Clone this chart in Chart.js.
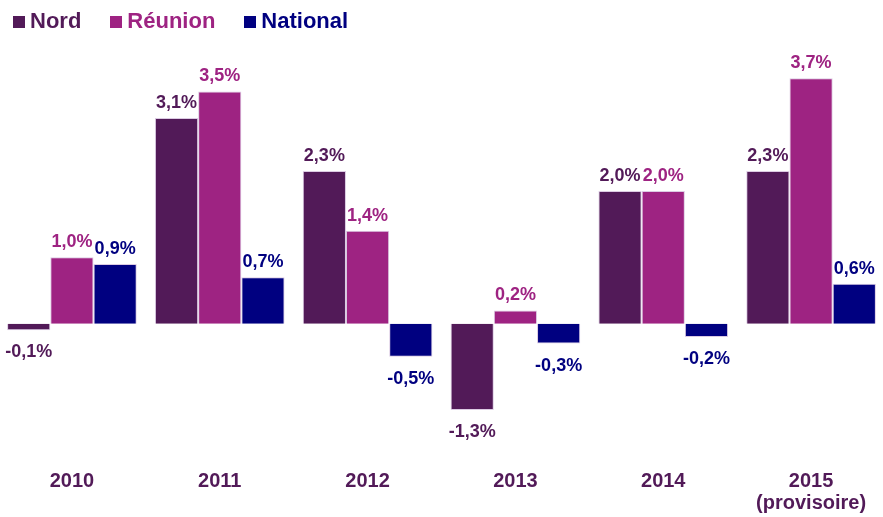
<!DOCTYPE html>
<html>
<head>
<meta charset="utf-8">
<script src="https://cdn.jsdelivr.net/npm/chart.js@4.4.0/dist/chart.umd.min.js"></script>
<style>
html, body { margin: 0; padding: 0; background: #fff; overflow: hidden; }
#wrap { position: relative; width: 883px; height: 517px; overflow: hidden; }
#legend { position: absolute; left: 13px; top: 10px; font: bold 22px "Liberation Sans", Arial, sans-serif; line-height: 22px; white-space: nowrap; }
#legend .item { display: inline-block; margin-right: 29px; }
#legend .box { display: inline-block; width: 12px; height: 12px; margin-right: 5px; vertical-align: baseline; }
canvas { position: absolute; left: -2px; top: 0; }
</style>
</head>
<body>
<div id="wrap">
  <canvas id="chart" width="887" height="517"></canvas>
  <div id="legend"></div>
</div>
<script>
// données
var years = ['2010', '2011', '2012', '2013', '2014', ['2015', '(provisoire)']];
var seriesNames = ['Nord', 'Réunion', 'National'];
var nord = [-0.1, 3.1, 2.3, -1.3, 2.0, 2.3];
var reunion = [1.0, 3.5, 1.4, 0.2, 2.0, 3.7];
var national = [0.9, 0.7, -0.5, -0.3, -0.2, 0.6];
var colors = ['#521a58', '#9e2382', '#000080'];

var $ = function(sel) {
    return document.querySelector(sel);
}

// légende en html
var legend = $('#legend');
seriesNames.forEach(function(name, i) {
    var item = document.createElement('span');
    item.className = 'item';
    item.style.color = colors[i];
    item.innerHTML = '<span class="box" style="background:' + colors[i] + '"></span>' + name;
    legend.appendChild(item);
});

function fmt(v) {
    return v.toFixed(1).replace('.', ',') + '%';
}

var valueLabels = {
    id: 'valueLabels',
    afterDatasetsDraw: function(chart) {
        var ctx = chart.ctx;
        ctx.save();
        ctx.font = 'bold 18px "Liberation Sans", Arial, sans-serif';
        ctx.textAlign = 'center';
        ctx.textBaseline = 'alphabetic';
        chart.data.datasets.forEach(function(ds, i) {
            var meta = chart.getDatasetMeta(i);
            ctx.fillStyle = colors[i];
            meta.data.forEach(function(bar, j) {
                var v = ds.data[j];
                if (v >= 0) {
                    ctx.fillText(fmt(v), bar.x, bar.y - 10);
                } else {
                    ctx.fillText(fmt(v), bar.x, bar.y + 27);
                }
            });
        });
        ctx.restore();
    }
};

var datasets = [nord, reunion, national].map(function(d, i) {
    return {
        label: seriesNames[i],
        data: d,
        backgroundColor: colors[i],
        borderColor: '#dccbe3',
        borderWidth: 1
    };
});

var chart = new Chart($('#chart').getContext('2d'), {
    type: 'bar',
    data: { labels: years, datasets: datasets },
    plugins: [valueLabels],
    options: {
        responsive: false,
        animation: false,
        layout: { padding: { top: 40, left: 0, right: 0, bottom: 0 } },
        plugins: {
            legend: { display: false },
            tooltip: { enabled: false }
        },
        datasets: {
            bar: { categoryPercentage: 0.877, barPercentage: 1.0 }
        },
        scales: {
            x: {
                grid: { display: false },
                border: { display: false },
                ticks: {
                    color: '#521a58',
                    padding: 3,
                    maxRotation: 0,
                    font: { family: '"Liberation Sans", Arial, sans-serif', size: 20, weight: 'bold', lineHeight: 1.1 }
                }
            },
            y: {
                display: false,
                min: -2.04,
                max: 4.275
            }
        }
    }
});
</script>
</body>
</html>
